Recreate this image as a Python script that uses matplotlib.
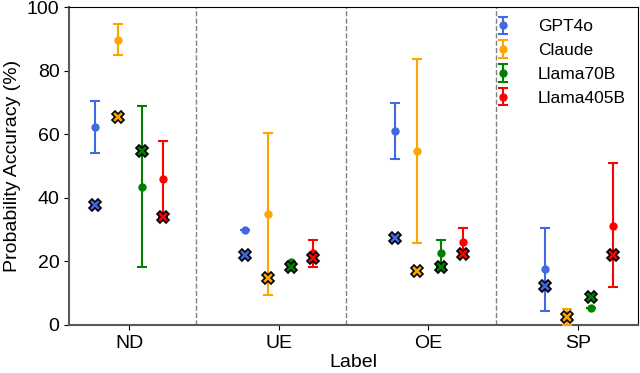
import numpy as np
import matplotlib
matplotlib.use('Agg')
import matplotlib.pyplot as plt

plt.rcParams['font.family'] = ['Liberation Sans', 'DejaVu Sans']

labels = ['ND', 'UE', 'OE', 'SP']
models = ['GPT4o', 'Claude', 'Llama70B', 'Llama405B']
colors = ['royalblue', 'orange', 'green', 'red']

# mean (dot) with error bar low/high, and the X marker value
gpt_mean = [62.3, 29.8, 61.0, 17.5]
gpt_low = [54.0, 29.8, 52.1, 4.4]
gpt_high = [70.6, 29.8, 69.9, 30.4]
gpt_x = [37.7, 22.1, 27.2, 12.1]

claude_mean = [89.8, 35.0, 54.7, 2.5]
claude_low = [84.8, 9.3, 25.9, 0.0]
claude_high = [94.8, 60.5, 83.7, 5.0]
claude_x = [65.3, 14.6, 16.9, 2.4]

l70_mean = [43.5, 19.9, 22.5, 5.2]
l70_low = [18.3, 19.9, 18.2, 5.2]
l70_high = [68.8, 19.9, 26.8, 5.2]
l70_x = [54.8, 18.2, 18.1, 8.8]

l405_mean = [46.0, 22.5, 26.2, 31.1]
l405_low = [34.0, 18.2, 22.0, 11.8]
l405_high = [57.9, 26.8, 30.4, 50.8]
l405_x = [34.0, 21.1, 22.4, 22.1]

means = [gpt_mean, claude_mean, l70_mean, l405_mean]
lows = [gpt_low, claude_low, l70_low, l405_low]
highs = [gpt_high, claude_high, l70_high, l405_high]
xs = [gpt_x, claude_x, l70_x, l405_x]
offsets = [-0.225, -0.075, 0.085, 0.23]

fig = plt.figure(figsize=(6.4, 3.73), dpi=100)
ax = fig.add_axes([0.108, 0.129, 0.889, 0.852])

pos = np.arange(len(labels))
for i in range(len(models)):
    m = np.array(means[i])
    lo = m - np.array(lows[i])
    hi = np.array(highs[i]) - m
    ax.errorbar(pos + offsets[i], m, yerr=[lo, hi], fmt='o', color=colors[i],
                markersize=5, capsize=3.5, elinewidth=1.5, capthick=1.5,
                label=models[i], zorder=3)
    ax.plot(pos + offsets[i], xs[i], 'X', color=colors[i], markeredgecolor='black',
            markeredgewidth=1.2, markersize=9, zorder=4)

for b in [0.45, 1.45, 2.45]:
    ax.axvline(b, color='gray', linestyle='--', linewidth=1, zorder=1)

ax.set_xlim(-0.4, 3.4)
ax.set_ylim(0, 100)
ax.set_xticks(pos)
ax.set_xticklabels(labels)
ax.tick_params(labelsize=14)
ax.set_xlabel('Label', fontsize=14, labelpad=2)
ax.set_ylabel('Probability Accuracy (%)', fontsize=14)
for s in ['left', 'bottom']:
    ax.spines[s].set_color('0.35')
    ax.spines[s].set_linewidth(1.5)

ax.legend(loc='upper right', fontsize=12.5, frameon=False, handletextpad=1.0,
          borderaxespad=0.3, labelspacing=0.5)

fig.savefig('out.png', dpi=100)
